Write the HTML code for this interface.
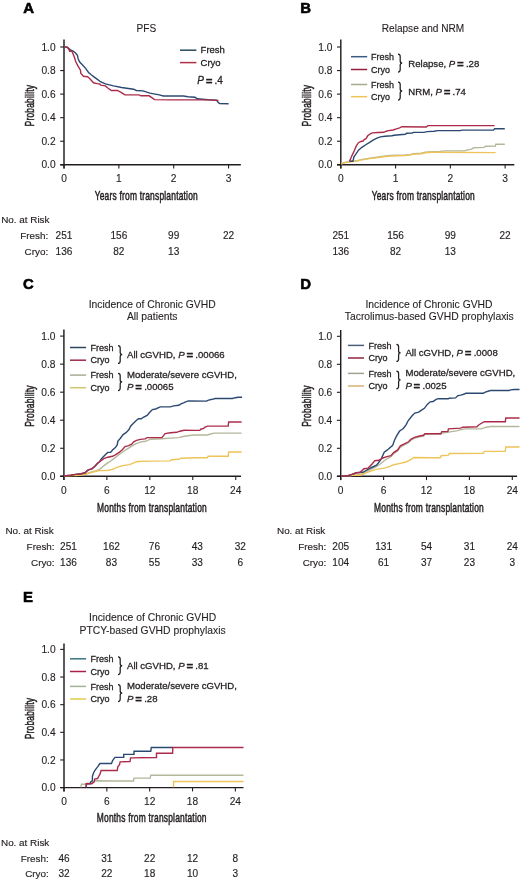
<!DOCTYPE html>
<html><head><meta charset="utf-8"><style>html,body{margin:0;padding:0;background:#fff;width:520px;height:880px;overflow:hidden}svg{display:block}</style></head><body>
<svg width="520" height="880" viewBox="0 0 520 880" style="will-change:transform" font-family='"Liberation Sans", sans-serif'>
<style>text{stroke:#231f20;stroke-width:0.28px;paint-order:stroke}</style><defs><filter id="bl" filterUnits="userSpaceOnUse" x="0" y="0" width="520" height="880"><feGaussianBlur stdDeviation="0.3"/></filter></defs><rect width="520" height="880" fill="#fff"/><g filter="url(#bl)">
<text x="23.3" y="12.6" font-size="14.9" text-anchor="start" font-weight="bold" fill="#000" style="stroke:#000;stroke-width:0.6px">A</text>
<text x="300.2" y="12.6" font-size="14.9" text-anchor="start" font-weight="bold" fill="#000" style="stroke:#000;stroke-width:0.6px">B</text>
<text x="23.0" y="288.6" font-size="14.9" text-anchor="start" font-weight="bold" fill="#000" style="stroke:#000;stroke-width:0.6px">C</text>
<text x="300.2" y="288.6" font-size="14.9" text-anchor="start" font-weight="bold" fill="#000" style="stroke:#000;stroke-width:0.6px">D</text>
<text x="23.0" y="601.9" font-size="14.9" text-anchor="start" font-weight="bold" fill="#000" style="stroke:#000;stroke-width:0.6px">E</text>
<path d="M64.00,39.60V168.60" stroke="#231f20" stroke-width="1.45" fill="none"/>
<path d="M60.20,164.80H240.80" stroke="#231f20" stroke-width="1.45" fill="none"/>
<path d="M60.20,164.80H64.0" stroke="#231f20" stroke-width="1.1" fill="none"/>
<text x="55.60" y="168.45" font-size="10.2" text-anchor="end" fill="#231f20" style="stroke-width:0.12px">0.0</text>
<path d="M60.20,141.24H64.0" stroke="#231f20" stroke-width="1.1" fill="none"/>
<text x="55.60" y="144.89" font-size="10.2" text-anchor="end" fill="#231f20" style="stroke-width:0.12px">0.2</text>
<path d="M60.20,117.68H64.0" stroke="#231f20" stroke-width="1.1" fill="none"/>
<text x="55.60" y="121.33" font-size="10.2" text-anchor="end" fill="#231f20" style="stroke-width:0.12px">0.4</text>
<path d="M60.20,94.12H64.0" stroke="#231f20" stroke-width="1.1" fill="none"/>
<text x="55.60" y="97.77" font-size="10.2" text-anchor="end" fill="#231f20" style="stroke-width:0.12px">0.6</text>
<path d="M60.20,70.56H64.0" stroke="#231f20" stroke-width="1.1" fill="none"/>
<text x="55.60" y="74.21" font-size="10.2" text-anchor="end" fill="#231f20" style="stroke-width:0.12px">0.8</text>
<path d="M60.20,47.00H64.0" stroke="#231f20" stroke-width="1.1" fill="none"/>
<text x="55.60" y="50.65" font-size="10.2" text-anchor="end" fill="#231f20" style="stroke-width:0.12px">1.0</text>
<path d="M64.00,164.80V168.60" stroke="#231f20" stroke-width="1.1" fill="none"/>
<text x="64.00" y="182.30" font-size="10.2" text-anchor="middle" fill="#231f20" style="stroke-width:0.12px">0</text>
<path d="M118.85,164.80V168.60" stroke="#231f20" stroke-width="1.1" fill="none"/>
<text x="118.85" y="182.30" font-size="10.2" text-anchor="middle" fill="#231f20" style="stroke-width:0.12px">1</text>
<path d="M173.70,164.80V168.60" stroke="#231f20" stroke-width="1.1" fill="none"/>
<text x="173.70" y="182.30" font-size="10.2" text-anchor="middle" fill="#231f20" style="stroke-width:0.12px">2</text>
<path d="M228.55,164.80V168.60" stroke="#231f20" stroke-width="1.1" fill="none"/>
<text x="228.55" y="182.30" font-size="10.2" text-anchor="middle" fill="#231f20" style="stroke-width:0.12px">3</text>
<path d="M340.80,39.60V168.60" stroke="#231f20" stroke-width="1.45" fill="none"/>
<path d="M337.00,164.80H514.30" stroke="#231f20" stroke-width="1.45" fill="none"/>
<path d="M337.00,164.80H340.8" stroke="#231f20" stroke-width="1.1" fill="none"/>
<text x="332.40" y="168.45" font-size="10.2" text-anchor="end" fill="#231f20" style="stroke-width:0.12px">0.0</text>
<path d="M337.00,141.24H340.8" stroke="#231f20" stroke-width="1.1" fill="none"/>
<text x="332.40" y="144.89" font-size="10.2" text-anchor="end" fill="#231f20" style="stroke-width:0.12px">0.2</text>
<path d="M337.00,117.68H340.8" stroke="#231f20" stroke-width="1.1" fill="none"/>
<text x="332.40" y="121.33" font-size="10.2" text-anchor="end" fill="#231f20" style="stroke-width:0.12px">0.4</text>
<path d="M337.00,94.12H340.8" stroke="#231f20" stroke-width="1.1" fill="none"/>
<text x="332.40" y="97.77" font-size="10.2" text-anchor="end" fill="#231f20" style="stroke-width:0.12px">0.6</text>
<path d="M337.00,70.56H340.8" stroke="#231f20" stroke-width="1.1" fill="none"/>
<text x="332.40" y="74.21" font-size="10.2" text-anchor="end" fill="#231f20" style="stroke-width:0.12px">0.8</text>
<path d="M337.00,47.00H340.8" stroke="#231f20" stroke-width="1.1" fill="none"/>
<text x="332.40" y="50.65" font-size="10.2" text-anchor="end" fill="#231f20" style="stroke-width:0.12px">1.0</text>
<path d="M340.80,164.80V168.60" stroke="#231f20" stroke-width="1.1" fill="none"/>
<text x="340.80" y="182.30" font-size="10.2" text-anchor="middle" fill="#231f20" style="stroke-width:0.12px">0</text>
<path d="M395.58,164.80V168.60" stroke="#231f20" stroke-width="1.1" fill="none"/>
<text x="395.58" y="182.30" font-size="10.2" text-anchor="middle" fill="#231f20" style="stroke-width:0.12px">1</text>
<path d="M450.36,164.80V168.60" stroke="#231f20" stroke-width="1.1" fill="none"/>
<text x="450.36" y="182.30" font-size="10.2" text-anchor="middle" fill="#231f20" style="stroke-width:0.12px">2</text>
<path d="M505.14,164.80V168.60" stroke="#231f20" stroke-width="1.1" fill="none"/>
<text x="505.14" y="182.30" font-size="10.2" text-anchor="middle" fill="#231f20" style="stroke-width:0.12px">3</text>
<path d="M63.90,329.60V480.10" stroke="#231f20" stroke-width="1.45" fill="none"/>
<path d="M60.10,476.30H241.00" stroke="#231f20" stroke-width="1.45" fill="none"/>
<path d="M60.10,476.30H63.9" stroke="#231f20" stroke-width="1.1" fill="none"/>
<text x="55.50" y="479.95" font-size="10.2" text-anchor="end" fill="#231f20" style="stroke-width:0.12px">0.0</text>
<path d="M60.10,448.26H63.9" stroke="#231f20" stroke-width="1.1" fill="none"/>
<text x="55.50" y="451.91" font-size="10.2" text-anchor="end" fill="#231f20" style="stroke-width:0.12px">0.2</text>
<path d="M60.10,420.22H63.9" stroke="#231f20" stroke-width="1.1" fill="none"/>
<text x="55.50" y="423.87" font-size="10.2" text-anchor="end" fill="#231f20" style="stroke-width:0.12px">0.4</text>
<path d="M60.10,392.18H63.9" stroke="#231f20" stroke-width="1.1" fill="none"/>
<text x="55.50" y="395.83" font-size="10.2" text-anchor="end" fill="#231f20" style="stroke-width:0.12px">0.6</text>
<path d="M60.10,364.14H63.9" stroke="#231f20" stroke-width="1.1" fill="none"/>
<text x="55.50" y="367.79" font-size="10.2" text-anchor="end" fill="#231f20" style="stroke-width:0.12px">0.8</text>
<path d="M60.10,336.10H63.9" stroke="#231f20" stroke-width="1.1" fill="none"/>
<text x="55.50" y="339.75" font-size="10.2" text-anchor="end" fill="#231f20" style="stroke-width:0.12px">1.0</text>
<path d="M63.90,476.30V480.10" stroke="#231f20" stroke-width="1.1" fill="none"/>
<text x="63.90" y="493.50" font-size="10.2" text-anchor="middle" fill="#231f20" style="stroke-width:0.12px">0</text>
<path d="M106.86,476.30V480.10" stroke="#231f20" stroke-width="1.1" fill="none"/>
<text x="106.86" y="493.50" font-size="10.2" text-anchor="middle" fill="#231f20" style="stroke-width:0.12px">6</text>
<path d="M149.82,476.30V480.10" stroke="#231f20" stroke-width="1.1" fill="none"/>
<text x="149.82" y="493.50" font-size="10.2" text-anchor="middle" fill="#231f20" style="stroke-width:0.12px">12</text>
<path d="M192.78,476.30V480.10" stroke="#231f20" stroke-width="1.1" fill="none"/>
<text x="192.78" y="493.50" font-size="10.2" text-anchor="middle" fill="#231f20" style="stroke-width:0.12px">18</text>
<path d="M235.74,476.30V480.10" stroke="#231f20" stroke-width="1.1" fill="none"/>
<text x="235.74" y="493.50" font-size="10.2" text-anchor="middle" fill="#231f20" style="stroke-width:0.12px">24</text>
<path d="M340.70,330.00V480.10" stroke="#231f20" stroke-width="1.45" fill="none"/>
<path d="M336.90,476.30H517.10" stroke="#231f20" stroke-width="1.45" fill="none"/>
<path d="M336.90,476.30H340.7" stroke="#231f20" stroke-width="1.1" fill="none"/>
<text x="332.30" y="479.95" font-size="10.2" text-anchor="end" fill="#231f20" style="stroke-width:0.12px">0.0</text>
<path d="M336.90,448.30H340.7" stroke="#231f20" stroke-width="1.1" fill="none"/>
<text x="332.30" y="451.95" font-size="10.2" text-anchor="end" fill="#231f20" style="stroke-width:0.12px">0.2</text>
<path d="M336.90,420.30H340.7" stroke="#231f20" stroke-width="1.1" fill="none"/>
<text x="332.30" y="423.95" font-size="10.2" text-anchor="end" fill="#231f20" style="stroke-width:0.12px">0.4</text>
<path d="M336.90,392.30H340.7" stroke="#231f20" stroke-width="1.1" fill="none"/>
<text x="332.30" y="395.95" font-size="10.2" text-anchor="end" fill="#231f20" style="stroke-width:0.12px">0.6</text>
<path d="M336.90,364.30H340.7" stroke="#231f20" stroke-width="1.1" fill="none"/>
<text x="332.30" y="367.95" font-size="10.2" text-anchor="end" fill="#231f20" style="stroke-width:0.12px">0.8</text>
<path d="M336.90,336.30H340.7" stroke="#231f20" stroke-width="1.1" fill="none"/>
<text x="332.30" y="339.95" font-size="10.2" text-anchor="end" fill="#231f20" style="stroke-width:0.12px">1.0</text>
<path d="M340.70,476.30V480.10" stroke="#231f20" stroke-width="1.1" fill="none"/>
<text x="340.70" y="493.50" font-size="10.2" text-anchor="middle" fill="#231f20" style="stroke-width:0.12px">0</text>
<path d="M383.60,476.30V480.10" stroke="#231f20" stroke-width="1.1" fill="none"/>
<text x="383.60" y="493.50" font-size="10.2" text-anchor="middle" fill="#231f20" style="stroke-width:0.12px">6</text>
<path d="M426.50,476.30V480.10" stroke="#231f20" stroke-width="1.1" fill="none"/>
<text x="426.50" y="493.50" font-size="10.2" text-anchor="middle" fill="#231f20" style="stroke-width:0.12px">12</text>
<path d="M469.40,476.30V480.10" stroke="#231f20" stroke-width="1.1" fill="none"/>
<text x="469.40" y="493.50" font-size="10.2" text-anchor="middle" fill="#231f20" style="stroke-width:0.12px">18</text>
<path d="M512.30,476.30V480.10" stroke="#231f20" stroke-width="1.1" fill="none"/>
<text x="512.30" y="493.50" font-size="10.2" text-anchor="middle" fill="#231f20" style="stroke-width:0.12px">24</text>
<path d="M64.00,643.50V791.40" stroke="#231f20" stroke-width="1.45" fill="none"/>
<path d="M60.20,787.60H243.50" stroke="#231f20" stroke-width="1.45" fill="none"/>
<path d="M60.20,787.60H64.0" stroke="#231f20" stroke-width="1.1" fill="none"/>
<text x="55.60" y="791.25" font-size="10.2" text-anchor="end" fill="#231f20" style="stroke-width:0.12px">0.0</text>
<path d="M60.20,759.96H64.0" stroke="#231f20" stroke-width="1.1" fill="none"/>
<text x="55.60" y="763.61" font-size="10.2" text-anchor="end" fill="#231f20" style="stroke-width:0.12px">0.2</text>
<path d="M60.20,732.32H64.0" stroke="#231f20" stroke-width="1.1" fill="none"/>
<text x="55.60" y="735.97" font-size="10.2" text-anchor="end" fill="#231f20" style="stroke-width:0.12px">0.4</text>
<path d="M60.20,704.68H64.0" stroke="#231f20" stroke-width="1.1" fill="none"/>
<text x="55.60" y="708.33" font-size="10.2" text-anchor="end" fill="#231f20" style="stroke-width:0.12px">0.6</text>
<path d="M60.20,677.04H64.0" stroke="#231f20" stroke-width="1.1" fill="none"/>
<text x="55.60" y="680.69" font-size="10.2" text-anchor="end" fill="#231f20" style="stroke-width:0.12px">0.8</text>
<path d="M60.20,649.40H64.0" stroke="#231f20" stroke-width="1.1" fill="none"/>
<text x="55.60" y="653.05" font-size="10.2" text-anchor="end" fill="#231f20" style="stroke-width:0.12px">1.0</text>
<path d="M64.00,787.60V791.40" stroke="#231f20" stroke-width="1.1" fill="none"/>
<text x="64.00" y="804.80" font-size="10.2" text-anchor="middle" fill="#231f20" style="stroke-width:0.12px">0</text>
<path d="M106.84,787.60V791.40" stroke="#231f20" stroke-width="1.1" fill="none"/>
<text x="106.84" y="804.80" font-size="10.2" text-anchor="middle" fill="#231f20" style="stroke-width:0.12px">6</text>
<path d="M149.68,787.60V791.40" stroke="#231f20" stroke-width="1.1" fill="none"/>
<text x="149.68" y="804.80" font-size="10.2" text-anchor="middle" fill="#231f20" style="stroke-width:0.12px">12</text>
<path d="M192.52,787.60V791.40" stroke="#231f20" stroke-width="1.1" fill="none"/>
<text x="192.52" y="804.80" font-size="10.2" text-anchor="middle" fill="#231f20" style="stroke-width:0.12px">18</text>
<path d="M235.36,787.60V791.40" stroke="#231f20" stroke-width="1.1" fill="none"/>
<text x="235.36" y="804.80" font-size="10.2" text-anchor="middle" fill="#231f20" style="stroke-width:0.12px">24</text>
<text transform="translate(146.3,199.9) scale(0.68,1)" font-size="12.4" text-anchor="middle" fill="#231f20" style="stroke-width:0.5px" letter-spacing="0.3">Years from transplantation</text>
<text transform="translate(423.3,199.9) scale(0.68,1)" font-size="12.4" text-anchor="middle" fill="#231f20" style="stroke-width:0.5px" letter-spacing="0.3">Years from transplantation</text>
<text transform="translate(152.0,511.7) scale(0.68,1)" font-size="12.4" text-anchor="middle" fill="#231f20" style="stroke-width:0.5px" letter-spacing="0.3">Months from transplantation</text>
<text transform="translate(429.0,511.7) scale(0.68,1)" font-size="12.4" text-anchor="middle" fill="#231f20" style="stroke-width:0.5px" letter-spacing="0.3">Months from transplantation</text>
<text transform="translate(151.8,822.3) scale(0.68,1)" font-size="12.4" text-anchor="middle" fill="#231f20" style="stroke-width:0.5px" letter-spacing="0.3">Months from transplantation</text>
<text transform="translate(33.8,105.6) rotate(-90) scale(0.68,1)" font-size="12.4" letter-spacing="0.3" text-anchor="middle" fill="#231f20" style="stroke-width:0.5px">Probability</text>
<text transform="translate(311.0,105.6) rotate(-90) scale(0.68,1)" font-size="12.4" letter-spacing="0.3" text-anchor="middle" fill="#231f20" style="stroke-width:0.5px">Probability</text>
<text transform="translate(33.8,406.0) rotate(-90) scale(0.68,1)" font-size="12.4" letter-spacing="0.3" text-anchor="middle" fill="#231f20" style="stroke-width:0.5px">Probability</text>
<text transform="translate(311.0,406.0) rotate(-90) scale(0.68,1)" font-size="12.4" letter-spacing="0.3" text-anchor="middle" fill="#231f20" style="stroke-width:0.5px">Probability</text>
<text transform="translate(33.8,718.5) rotate(-90) scale(0.68,1)" font-size="12.4" letter-spacing="0.3" text-anchor="middle" fill="#231f20" style="stroke-width:0.5px">Probability</text>
<text x="146.4" y="31.9" font-size="10.1" text-anchor="middle" fill="#231f20" style="stroke-width:0.1px">PFS</text>
<text x="423.0" y="31.9" font-size="10.1" text-anchor="middle" fill="#231f20" style="stroke-width:0.1px">Relapse and NRM</text>
<text x="152.2" y="308.0" font-size="10.35" text-anchor="middle" fill="#231f20" style="stroke-width:0.1px">Incidence of Chronic GVHD</text>
<text x="152.2" y="319.8" font-size="10.35" text-anchor="middle" fill="#231f20" style="stroke-width:0.1px">All patients</text>
<text x="429.0" y="308.0" font-size="10.35" text-anchor="middle" fill="#231f20" style="stroke-width:0.1px">Incidence of Chronic GVHD</text>
<text x="429.3" y="319.8" font-size="10.35" text-anchor="middle" fill="#231f20" style="stroke-width:0.1px">Tacrolimus-based GVHD prophylaxis</text>
<text x="152.6" y="620.9" font-size="10.35" text-anchor="middle" fill="#231f20" style="stroke-width:0.1px">Incidence of Chronic GVHD</text>
<text x="152.6" y="633.8" font-size="10.35" text-anchor="middle" fill="#231f20" style="stroke-width:0.1px">PTCY-based GVHD prophylaxis</text>
<path d="M64.30,46.90 L67.40,47.50 L70.50,49.80 L73.50,51.30 L75.80,53.20 L77.40,55.20 L78.20,59.00 L79.70,62.10 L82.80,65.20 L85.80,68.60 L88.50,72.50 L91.20,74.80 L94.30,77.10 L97.40,79.40 L100.50,81.70 L105.40,83.90 L113.50,85.90 L121.50,87.50 L133.60,89.20 L136.30,90.50 L143.10,90.90 L149.80,93.10 L159.20,94.90 L163.30,96.00 L183.50,96.00 L188.00,96.70 L195.00,97.30 L197.30,98.80 L208.00,99.80 L216.50,100.10 L218.10,102.20 L219.60,103.50 L228.60,103.80" stroke="#2c4a72" stroke-width="1.4" fill="none"/>
<path d="M64.30,46.90 L67.40,47.10 L68.90,49.40 L69.70,51.30 L72.00,51.30 L72.80,53.20 L74.30,57.10 L75.80,61.70 L78.20,66.30 L80.50,70.20 L80.80,73.20 L82.80,75.50 L83.50,76.30 L87.40,76.70 L88.90,77.80 L91.20,80.20 L93.50,82.80 L97.40,83.60 L99.70,84.00 L100.80,85.20 L105.40,85.90 L108.10,88.20 L111.40,90.50 L117.50,90.50 L121.50,92.60 L124.90,94.90 L139.00,94.90 L141.00,95.80 L149.10,95.80 L151.80,97.60 L154.50,99.60 L170.00,99.90 L208.00,99.90 L217.30,100.40 L218.50,100.40" stroke="#ac2c4a" stroke-width="1.4" fill="none"/>
<path d="M341.20,163.50 L343.00,162.80 L346.90,161.90 L351.50,161.20 L357.30,160.60 L360.80,159.60 L365.40,158.90 L370.00,158.10 L376.70,157.30 L383.50,156.30 L390.20,155.50 L396.90,155.30 L405.00,155.00 L410.40,154.60 L413.10,153.70 L421.10,153.20 L425.20,152.30 L431.90,151.70 L433.10,151.70 L440.00,151.40 L445.00,150.90 L464.60,150.90 L465.80,150.30 L471.50,149.20 L473.80,147.80 L484.20,147.40 L485.40,146.30 L495.40,146.10 L495.80,144.30 L504.80,144.30" stroke="#b3b89a" stroke-width="1.4" fill="none"/>
<path d="M341.20,164.00 L343.00,163.30 L346.90,162.40 L351.50,161.70 L357.30,161.10 L360.80,160.10 L365.40,159.40 L370.00,158.60 L376.70,157.80 L383.50,156.80 L390.20,156.00 L396.90,155.80 L405.00,155.50 L410.40,155.10 L413.10,154.20 L421.10,153.70 L425.20,152.80 L431.90,152.20 L433.10,152.20 L495.60,152.60" stroke="#ecc458" stroke-width="1.4" fill="none"/>
<path d="M349.80,161.30 L352.80,161.30 L353.30,160.00 L353.80,157.10 L356.20,153.70 L358.50,150.20 L361.90,147.30 L365.40,145.00 L370.00,142.10 L373.50,139.80 L376.90,138.10 L380.40,136.90 L385.00,136.30 L391.90,135.80 L394.20,135.20 L399.60,134.70 L405.40,134.20 L406.50,133.20 L412.30,133.00 L413.50,132.40 L423.80,132.40 L427.30,131.60 L434.20,131.30 L437.70,130.60 L460.00,130.60 L462.30,130.10 L493.50,130.10 L494.60,128.70 L504.80,128.70" stroke="#2c4a72" stroke-width="1.4" fill="none"/>
<path d="M349.30,161.40 L350.40,159.40 L351.50,156.50 L353.80,151.90 L356.20,146.20 L358.50,142.70 L360.80,141.50 L363.10,141.00 L364.20,139.50 L366.00,138.70 L367.70,135.80 L370.00,134.00 L372.30,132.90 L378.10,132.50 L383.80,132.30 L386.20,131.20 L388.50,130.60 L393.10,130.00 L396.50,128.80 L399.60,127.80 L401.90,126.70 L426.20,127.00 L427.90,125.60 L494.60,125.60" stroke="#ac2c4a" stroke-width="1.4" fill="none"/>
<path d="M75.00,475.60 L80.30,474.70 L85.10,474.20 L89.90,472.30 L94.70,471.30 L99.50,469.40 L102.40,467.00 L105.30,464.60 L108.20,462.70 L111.10,460.80 L112.50,459.60 L116.30,456.70 L120.20,453.80 L124.00,451.00 L127.90,448.60 L131.70,446.20 L135.60,443.80 L139.40,442.30 L144.20,441.30 L145.00,441.60 L150.30,439.20 L161.90,438.70 L170.40,438.10 L178.80,437.60 L183.10,436.50 L189.40,435.50 L195.00,435.00 L207.50,435.00 L210.40,434.00 L214.20,433.10 L241.60,433.10" stroke="#b3b89a" stroke-width="1.4" fill="none"/>
<path d="M64.00,476.00 L72.00,475.60 L79.40,475.20 L87.10,473.80 L94.80,471.50 L99.40,470.50 L104.00,470.60 L108.80,470.30 L112.30,469.40 L116.90,467.30 L122.70,465.60 L129.60,464.60 L134.20,462.70 L137.70,461.50 L150.00,461.10 L170.40,460.90 L171.40,459.80 L178.80,459.30 L181.00,458.20 L195.00,457.80 L207.50,457.80 L208.00,456.30 L228.20,456.30 L228.70,452.00 L241.60,452.00" stroke="#ecc458" stroke-width="1.4" fill="none"/>
<path d="M64.00,476.00 L70.70,475.20 L75.50,474.40 L81.30,473.80 L85.10,472.80 L87.50,470.40 L89.90,469.40 L91.80,468.90 L94.70,466.50 L97.60,463.20 L99.50,461.70 L101.90,458.20 L104.80,455.30 L107.70,452.40 L110.60,452.40 L112.50,450.00 L115.40,447.60 L117.30,444.70 L117.80,441.30 L120.20,438.50 L123.10,434.60 L126.00,432.70 L128.80,429.80 L130.80,426.00 L133.70,423.10 L136.50,420.20 L138.50,418.80 L141.30,418.80 L143.30,417.30 L147.10,415.40 L150.00,412.00 L152.40,409.60 L155.60,409.00 L160.30,406.90 L170.40,406.90 L173.60,405.90 L178.80,405.30 L181.00,403.80 L184.10,402.70 L186.30,401.60 L188.40,400.90 L206.50,401.10 L208.50,400.10 L212.30,399.30 L215.20,398.50 L232.50,398.50 L235.40,397.70 L238.30,397.20 L242.10,397.20" stroke="#2c4a72" stroke-width="1.4" fill="none"/>
<path d="M64.00,476.00 L70.70,475.20 L75.50,474.40 L81.30,473.80 L85.10,472.80 L87.50,470.40 L89.90,469.40 L91.80,468.90 L94.70,466.50 L97.60,463.20 L100.00,461.50 L103.80,458.70 L107.70,457.20 L112.50,456.30 L115.40,454.80 L119.20,452.40 L122.10,450.00 L125.00,446.60 L128.80,445.70 L131.70,444.20 L133.70,441.80 L136.50,440.40 L140.40,439.40 L145.20,438.90 L147.10,437.60 L161.90,437.60 L165.10,433.60 L170.40,432.80 L176.70,432.30 L179.90,431.20 L184.10,430.20 L195.00,430.40 L199.80,430.40 L200.80,429.20 L203.70,428.50 L204.60,427.30 L207.50,426.10 L228.20,426.10 L228.70,422.00 L241.60,422.00" stroke="#ac2c4a" stroke-width="1.4" fill="none"/>
<path d="M350.00,475.60 L357.00,474.80 L364.00,473.80 L368.10,470.80 L376.20,466.70 L380.20,464.00 L384.20,460.70 L388.30,458.00 L391.00,456.70 L393.60,453.80 L397.70,450.90 L400.40,447.20 L404.40,445.00 L408.50,442.80 L411.10,440.20 L415.20,438.00 L420.60,436.60 L423.50,436.00 L424.90,434.30 L430.00,434.00 L441.20,434.00 L442.30,433.00 L448.40,432.10 L456.60,430.90 L460.70,429.60 L465.80,428.90 L481.20,428.90 L486.40,427.20 L490.40,426.50 L519.50,426.50" stroke="#b3b89a" stroke-width="1.4" fill="none"/>
<path d="M341.00,476.00 L348.00,475.80 L354.40,475.20 L360.00,475.30 L368.10,472.10 L376.20,469.40 L384.20,468.10 L389.60,466.70 L393.60,464.70 L400.40,463.40 L405.80,462.00 L411.10,459.30 L413.80,457.50 L430.00,457.70 L440.20,457.70 L441.20,455.70 L448.40,455.20 L449.40,453.50 L483.30,453.40 L484.30,451.40 L505.30,451.40 L505.80,447.00 L519.50,447.00" stroke="#ecc458" stroke-width="1.4" fill="none"/>
<path d="M341.00,476.00 L347.70,475.70 L351.50,474.70 L356.30,472.80 L360.20,472.30 L363.10,472.30 L368.80,468.90 L372.70,467.00 L376.50,465.10 L378.50,462.70 L381.30,458.80 L384.20,452.10 L387.10,450.20 L388.80,448.70 L392.70,445.30 L394.60,440.00 L396.50,436.20 L399.40,431.30 L403.30,428.50 L406.20,424.60 L408.10,420.80 L411.90,416.00 L414.80,413.10 L418.70,412.10 L421.50,410.20 L424.40,408.30 L427.30,404.40 L430.20,401.80 L433.10,401.50 L436.10,399.40 L438.20,398.70 L448.40,398.70 L449.40,398.20 L455.60,397.90 L457.60,395.80 L460.70,395.10 L463.70,394.30 L465.80,393.30 L483.30,393.30 L485.30,392.10 L490.40,390.50 L508.90,390.50 L510.90,389.90 L514.00,389.50 L519.50,389.50" stroke="#2c4a72" stroke-width="1.4" fill="none"/>
<path d="M341.00,476.00 L347.70,475.70 L351.50,474.70 L356.30,472.80 L360.00,472.60 L364.00,468.70 L368.10,468.10 L372.10,464.00 L374.80,460.70 L378.80,460.30 L382.90,458.00 L386.90,456.60 L391.00,455.70 L393.60,452.60 L397.70,449.90 L400.40,445.90 L404.40,443.80 L408.50,441.80 L411.10,439.10 L415.20,437.10 L420.60,435.80 L423.50,435.30 L424.90,433.70 L440.70,433.70 L441.80,431.60 L447.90,431.60 L448.40,428.90 L460.70,428.10 L462.70,427.20 L477.00,426.80 L478.10,425.50 L480.20,424.00 L484.30,421.70 L505.30,421.70 L505.80,418.00 L519.50,418.00" stroke="#ac2c4a" stroke-width="1.4" fill="none"/>
<path d="M80.90,787.30 L81.50,784.20 L86.10,784.20 L86.70,783.10 L91.80,783.10 L94.20,781.30 L95.30,780.80 L115.00,781.00 L133.50,781.00 L134.00,778.10 L150.20,778.10 L150.80,775.20 L243.50,775.20" stroke="#b3b89a" stroke-width="1.4" fill="none"/>
<path d="M173.50,787.30 L173.50,781.50 L243.50,781.50" stroke="#ecc458" stroke-width="1.4" fill="none"/>
<path d="M86.10,787.30 L86.70,783.70 L90.10,783.70 L90.70,781.90 L92.40,780.80 L92.40,776.20 L93.60,772.70 L95.30,769.80 L97.60,766.90 L99.90,763.50 L111.50,763.50 L112.60,760.60 L114.90,757.40 L123.70,757.40 L123.70,754.40 L134.00,754.40 L134.00,751.20 L150.80,751.20 L151.30,747.50 L173.00,747.50" stroke="#2c4a72" stroke-width="1.4" fill="none"/>
<path d="M86.10,787.30 L86.10,783.70 L91.80,783.70 L94.20,781.90 L94.70,779.00 L97.60,778.50 L98.80,776.20 L99.90,774.40 L101.10,770.50 L117.20,770.50 L117.80,766.90 L119.50,764.60 L120.10,761.90 L130.00,761.50 L130.60,757.90 L156.50,757.50 L156.50,753.20 L172.60,753.20 L172.80,747.50 L243.50,747.50" stroke="#ac2c4a" stroke-width="1.4" fill="none"/>
<path d="M180,50.2H196.4" stroke="#28485e" stroke-width="1.5" fill="none"/>
<text x="200.6" y="53.1" font-size="9.5" text-anchor="start" fill="#231f20">Fresh</text>
<path d="M180,62.6H196.4" stroke="#b0304a" stroke-width="1.5" fill="none"/>
<text x="200.6" y="65.5" font-size="9.5" text-anchor="start" fill="#231f20">Cryo</text>
<text x="197.2" y="83.5" font-size="10.0" text-anchor="start" fill="#231f20"><tspan font-style="italic">P</tspan><tspan dx="1.8" dy="1.0" font-weight="bold" font-size="11.5">=</tspan><tspan dx="2.2" dy="-1.0">.4</tspan></text>
<path d="M351,56.7H367.2" stroke="#3a5a84" stroke-width="1.5" fill="none"/>
<text x="371" y="60.0" font-size="9.0" text-anchor="start" fill="#231f20">Fresh</text>
<path d="M351,69.5H367.2" stroke="#9a1c3c" stroke-width="1.5" fill="none"/>
<text x="371" y="72.8" font-size="9.0" text-anchor="start" fill="#231f20">Cryo</text>
<path d="M351,84.5H367.2" stroke="#a8aa90" stroke-width="1.5" fill="none"/>
<text x="371" y="87.8" font-size="9.0" text-anchor="start" fill="#231f20">Fresh</text>
<path d="M351,96.7H367.2" stroke="#efc456" stroke-width="1.5" fill="none"/>
<text x="371" y="100.0" font-size="9.0" text-anchor="start" fill="#231f20">Cryo</text>
<path d="M398,54 Q400.2,54 400.2,56.5 V61.0 Q400.2,63.0 402.2,63.0 Q400.2,63.0 400.2,65.0 V69.5 Q400.2,72 398,72" stroke="#231f20" stroke-width="1.25" fill="none"/>
<text x="408.3" y="66.6" font-size="9.6" text-anchor="start" fill="#231f20">Relapse, <tspan font-style="italic">P</tspan><tspan dx="1.8" dy="1.0" font-weight="bold" font-size="11.5">=</tspan><tspan dx="2.2" dy="-1.0">.28</tspan></text>
<path d="M398,82 Q400.2,82 400.2,84.5 V89.0 Q400.2,91.0 402.2,91.0 Q400.2,91.0 400.2,93.0 V97.5 Q400.2,100 398,100" stroke="#231f20" stroke-width="1.25" fill="none"/>
<text x="408.3" y="94.6" font-size="9.6" text-anchor="start" fill="#231f20">NRM, <tspan font-style="italic">P</tspan><tspan dx="1.8" dy="1.0" font-weight="bold" font-size="11.5">=</tspan><tspan dx="2.2" dy="-1.0">.74</tspan></text>
<path d="M70,347.5H86.1" stroke="#2f4560" stroke-width="1.5" fill="none"/>
<text x="90.50" y="350.70" font-size="9.0" text-anchor="start" fill="#231f20">Fresh</text>
<path d="M70,360.2H86.1" stroke="#9a2c48" stroke-width="1.5" fill="none"/>
<text x="90.50" y="363.40" font-size="9.0" text-anchor="start" fill="#231f20">Cryo</text>
<path d="M70,375.1H86.1" stroke="#a9aa98" stroke-width="1.5" fill="none"/>
<text x="90.50" y="378.30" font-size="9.0" text-anchor="start" fill="#231f20">Fresh</text>
<path d="M70,387.7H86.1" stroke="#cfc470" stroke-width="1.5" fill="none"/>
<text x="90.50" y="390.90" font-size="9.0" text-anchor="start" fill="#231f20">Cryo</text>
<path d="M118,345.6 Q120.2,345.6 120.2,348.1 V352.5 Q120.2,354.5 122.2,354.5 Q120.2,354.5 120.2,356.5 V360.9 Q120.2,363.4 118,363.4" stroke="#231f20" stroke-width="1.25" fill="none"/>
<path d="M118,373.3 Q120.2,373.3 120.2,375.8 V379.9 Q120.2,381.9 122.2,381.9 Q120.2,381.9 120.2,383.9 V388.0 Q120.2,390.5 118,390.5" stroke="#231f20" stroke-width="1.25" fill="none"/>
<text x="127.00" y="357.50" font-size="9.6" text-anchor="start" fill="#231f20">All cGVHD, <tspan font-style="italic">P</tspan><tspan dx="1.8" dy="1.0" font-weight="bold" font-size="11.5">=</tspan><tspan dx="2.2" dy="-1.0">.00066</tspan></text>
<text x="127.00" y="377.90" font-size="9.6" text-anchor="start" fill="#231f20">Moderate/severe cGVHD,</text>
<text x="127.00" y="390.30" font-size="9.6" text-anchor="start" fill="#231f20"><tspan font-style="italic">P</tspan><tspan dx="1.8" dy="1.0" font-weight="bold" font-size="11.5">=</tspan><tspan dx="2.2" dy="-1.0">.00065</tspan></text>
<path d="M347.9,345.4H364.0" stroke="#4a6078" stroke-width="1.5" fill="none"/>
<text x="368.50" y="348.60" font-size="9.0" text-anchor="start" fill="#231f20">Fresh</text>
<path d="M347.9,358.0H364.0" stroke="#92203c" stroke-width="1.5" fill="none"/>
<text x="368.50" y="361.20" font-size="9.0" text-anchor="start" fill="#231f20">Cryo</text>
<path d="M347.9,373.4H364.0" stroke="#a2a292" stroke-width="1.5" fill="none"/>
<text x="368.50" y="376.60" font-size="9.0" text-anchor="start" fill="#231f20">Fresh</text>
<path d="M347.9,386.0H364.0" stroke="#d9b272" stroke-width="1.5" fill="none"/>
<text x="368.50" y="389.20" font-size="9.0" text-anchor="start" fill="#231f20">Cryo</text>
<path d="M396.4,344.4 Q398.59999999999997,344.4 398.59999999999997,346.9 V350.9 Q398.59999999999997,352.9 400.59999999999997,352.9 Q398.59999999999997,352.9 398.59999999999997,354.9 V358.9 Q398.59999999999997,361.4 396.4,361.4" stroke="#231f20" stroke-width="1.25" fill="none"/>
<path d="M396.4,371.0 Q398.59999999999997,371.0 398.59999999999997,373.5 V377.9 Q398.59999999999997,379.9 400.59999999999997,379.9 Q398.59999999999997,379.9 398.59999999999997,381.9 V386.29999999999995 Q398.59999999999997,388.79999999999995 396.4,388.79999999999995" stroke="#231f20" stroke-width="1.25" fill="none"/>
<text x="405.40" y="355.70" font-size="9.6" text-anchor="start" fill="#231f20">All cGVHD, <tspan font-style="italic">P</tspan><tspan dx="1.8" dy="1.0" font-weight="bold" font-size="11.5">=</tspan><tspan dx="2.2" dy="-1.0">.0008</tspan></text>
<text x="405.40" y="376.40" font-size="9.6" text-anchor="start" fill="#231f20">Moderate/severe cGVHD,</text>
<text x="405.40" y="388.80" font-size="9.6" text-anchor="start" fill="#231f20"><tspan font-style="italic">P</tspan><tspan dx="1.8" dy="1.0" font-weight="bold" font-size="11.5">=</tspan><tspan dx="2.2" dy="-1.0">.0025</tspan></text>
<path d="M70,658.8H86.1" stroke="#3a7282" stroke-width="1.5" fill="none"/>
<text x="90.50" y="662.00" font-size="9.0" text-anchor="start" fill="#231f20">Fresh</text>
<path d="M70,671.5H86.1" stroke="#a82444" stroke-width="1.5" fill="none"/>
<text x="90.50" y="674.70" font-size="9.0" text-anchor="start" fill="#231f20">Cryo</text>
<path d="M70,686.4H86.1" stroke="#a4b296" stroke-width="1.5" fill="none"/>
<text x="90.50" y="689.60" font-size="9.0" text-anchor="start" fill="#231f20">Fresh</text>
<path d="M70,699.0H86.1" stroke="#dccd50" stroke-width="1.5" fill="none"/>
<text x="90.50" y="702.20" font-size="9.0" text-anchor="start" fill="#231f20">Cryo</text>
<path d="M118,656.9 Q120.2,656.9 120.2,659.4 V663.75 Q120.2,665.75 122.2,665.75 Q120.2,665.75 120.2,667.75 V672.0999999999999 Q120.2,674.5999999999999 118,674.5999999999999" stroke="#231f20" stroke-width="1.25" fill="none"/>
<path d="M118,684.5999999999999 Q120.2,684.5999999999999 120.2,687.0999999999999 V691.05 Q120.2,693.05 122.2,693.05 Q120.2,693.05 120.2,695.05 V699.0 Q120.2,701.5 118,701.5" stroke="#231f20" stroke-width="1.25" fill="none"/>
<text x="127.00" y="668.80" font-size="9.6" text-anchor="start" fill="#231f20">All cGVHD, <tspan font-style="italic">P</tspan><tspan dx="1.8" dy="1.0" font-weight="bold" font-size="11.5">=</tspan><tspan dx="2.2" dy="-1.0">.81</tspan></text>
<text x="127.00" y="689.20" font-size="9.6" text-anchor="start" fill="#231f20">Moderate/severe cGVHD,</text>
<text x="127.00" y="701.60" font-size="9.6" text-anchor="start" fill="#231f20"><tspan font-style="italic">P</tspan><tspan dx="1.8" dy="1.0" font-weight="bold" font-size="11.5">=</tspan><tspan dx="2.2" dy="-1.0">.28</tspan></text>
<text x="1.2" y="223.0" font-size="9.9" text-anchor="start" fill="#231f20" style="stroke-width:0.15px">No. at Risk</text>
<text x="48.2" y="238.6" font-size="9.9" text-anchor="end" fill="#231f20" style="stroke-width:0.15px">Fresh:</text>
<text x="48.2" y="254.6" font-size="9.9" text-anchor="end" fill="#231f20" style="stroke-width:0.15px">Cryo:</text>
<text x="64.00" y="238.6" font-size="10.05" text-anchor="middle" fill="#231f20" style="stroke-width:0.15px">251</text>
<text x="118.85" y="238.6" font-size="10.05" text-anchor="middle" fill="#231f20" style="stroke-width:0.15px">156</text>
<text x="173.70" y="238.6" font-size="10.05" text-anchor="middle" fill="#231f20" style="stroke-width:0.15px">99</text>
<text x="228.55" y="238.6" font-size="10.05" text-anchor="middle" fill="#231f20" style="stroke-width:0.15px">22</text>
<text x="64.00" y="254.6" font-size="10.05" text-anchor="middle" fill="#231f20" style="stroke-width:0.15px">136</text>
<text x="118.85" y="254.6" font-size="10.05" text-anchor="middle" fill="#231f20" style="stroke-width:0.15px">82</text>
<text x="173.70" y="254.6" font-size="10.05" text-anchor="middle" fill="#231f20" style="stroke-width:0.15px">13</text>
<text x="340.80" y="238.6" font-size="10.05" text-anchor="middle" fill="#231f20" style="stroke-width:0.15px">251</text>
<text x="395.58" y="238.6" font-size="10.05" text-anchor="middle" fill="#231f20" style="stroke-width:0.15px">156</text>
<text x="450.36" y="238.6" font-size="10.05" text-anchor="middle" fill="#231f20" style="stroke-width:0.15px">99</text>
<text x="505.14" y="238.6" font-size="10.05" text-anchor="middle" fill="#231f20" style="stroke-width:0.15px">22</text>
<text x="340.80" y="254.6" font-size="10.05" text-anchor="middle" fill="#231f20" style="stroke-width:0.15px">136</text>
<text x="395.58" y="254.6" font-size="10.05" text-anchor="middle" fill="#231f20" style="stroke-width:0.15px">82</text>
<text x="450.36" y="254.6" font-size="10.05" text-anchor="middle" fill="#231f20" style="stroke-width:0.15px">13</text>
<text x="5.4" y="534.4" font-size="9.9" text-anchor="start" fill="#231f20" style="stroke-width:0.15px">No. at Risk</text>
<text x="54.6" y="549.9" font-size="9.9" text-anchor="end" fill="#231f20" style="stroke-width:0.15px">Fresh:</text>
<text x="54.6" y="566.1" font-size="9.9" text-anchor="end" fill="#231f20" style="stroke-width:0.15px">Cryo:</text>
<text x="68.50" y="549.9" font-size="10.05" text-anchor="middle" fill="#231f20" style="stroke-width:0.15px">251</text>
<text x="111.46" y="549.9" font-size="10.05" text-anchor="middle" fill="#231f20" style="stroke-width:0.15px">162</text>
<text x="154.42" y="549.9" font-size="10.05" text-anchor="middle" fill="#231f20" style="stroke-width:0.15px">76</text>
<text x="197.38" y="549.9" font-size="10.05" text-anchor="middle" fill="#231f20" style="stroke-width:0.15px">43</text>
<text x="240.34" y="549.9" font-size="10.05" text-anchor="middle" fill="#231f20" style="stroke-width:0.15px">32</text>
<text x="68.50" y="566.1" font-size="10.05" text-anchor="middle" fill="#231f20" style="stroke-width:0.15px">136</text>
<text x="111.46" y="566.1" font-size="10.05" text-anchor="middle" fill="#231f20" style="stroke-width:0.15px">83</text>
<text x="154.42" y="566.1" font-size="10.05" text-anchor="middle" fill="#231f20" style="stroke-width:0.15px">55</text>
<text x="197.38" y="566.1" font-size="10.05" text-anchor="middle" fill="#231f20" style="stroke-width:0.15px">33</text>
<text x="240.34" y="566.1" font-size="10.05" text-anchor="middle" fill="#231f20" style="stroke-width:0.15px">6</text>
<text x="277" y="534.4" font-size="9.9" text-anchor="start" fill="#231f20" style="stroke-width:0.15px">No. at Risk</text>
<text x="326.3" y="549.9" font-size="9.9" text-anchor="end" fill="#231f20" style="stroke-width:0.15px">Fresh:</text>
<text x="326.3" y="566.1" font-size="9.9" text-anchor="end" fill="#231f20" style="stroke-width:0.15px">Cryo:</text>
<text x="340.70" y="549.9" font-size="10.05" text-anchor="middle" fill="#231f20" style="stroke-width:0.15px">205</text>
<text x="383.60" y="549.9" font-size="10.05" text-anchor="middle" fill="#231f20" style="stroke-width:0.15px">131</text>
<text x="426.50" y="549.9" font-size="10.05" text-anchor="middle" fill="#231f20" style="stroke-width:0.15px">54</text>
<text x="469.40" y="549.9" font-size="10.05" text-anchor="middle" fill="#231f20" style="stroke-width:0.15px">31</text>
<text x="512.30" y="549.9" font-size="10.05" text-anchor="middle" fill="#231f20" style="stroke-width:0.15px">24</text>
<text x="340.70" y="566.1" font-size="10.05" text-anchor="middle" fill="#231f20" style="stroke-width:0.15px">104</text>
<text x="383.60" y="566.1" font-size="10.05" text-anchor="middle" fill="#231f20" style="stroke-width:0.15px">61</text>
<text x="426.50" y="566.1" font-size="10.05" text-anchor="middle" fill="#231f20" style="stroke-width:0.15px">37</text>
<text x="469.40" y="566.1" font-size="10.05" text-anchor="middle" fill="#231f20" style="stroke-width:0.15px">23</text>
<text x="512.30" y="566.1" font-size="10.05" text-anchor="middle" fill="#231f20" style="stroke-width:0.15px">3</text>
<text x="1.0" y="845.6" font-size="9.9" text-anchor="start" fill="#231f20" style="stroke-width:0.15px">No. at Risk</text>
<text x="48.8" y="861.9" font-size="9.9" text-anchor="end" fill="#231f20" style="stroke-width:0.15px">Fresh:</text>
<text x="48.8" y="877.3" font-size="9.9" text-anchor="end" fill="#231f20" style="stroke-width:0.15px">Cryo:</text>
<text x="64.00" y="861.9" font-size="10.05" text-anchor="middle" fill="#231f20" style="stroke-width:0.15px">46</text>
<text x="106.84" y="861.9" font-size="10.05" text-anchor="middle" fill="#231f20" style="stroke-width:0.15px">31</text>
<text x="149.68" y="861.9" font-size="10.05" text-anchor="middle" fill="#231f20" style="stroke-width:0.15px">22</text>
<text x="192.52" y="861.9" font-size="10.05" text-anchor="middle" fill="#231f20" style="stroke-width:0.15px">12</text>
<text x="235.36" y="861.9" font-size="10.05" text-anchor="middle" fill="#231f20" style="stroke-width:0.15px">8</text>
<text x="64.00" y="877.3" font-size="10.05" text-anchor="middle" fill="#231f20" style="stroke-width:0.15px">32</text>
<text x="106.84" y="877.3" font-size="10.05" text-anchor="middle" fill="#231f20" style="stroke-width:0.15px">22</text>
<text x="149.68" y="877.3" font-size="10.05" text-anchor="middle" fill="#231f20" style="stroke-width:0.15px">18</text>
<text x="192.52" y="877.3" font-size="10.05" text-anchor="middle" fill="#231f20" style="stroke-width:0.15px">10</text>
<text x="235.36" y="877.3" font-size="10.05" text-anchor="middle" fill="#231f20" style="stroke-width:0.15px">3</text>
</g></svg>
</body></html>
